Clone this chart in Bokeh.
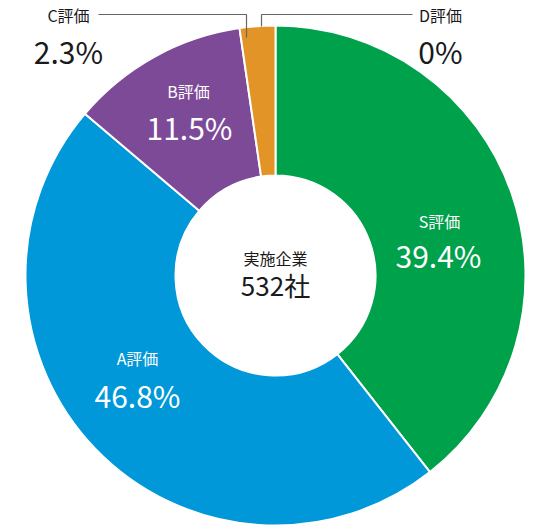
import numpy as np
from bokeh.plotting import figure
from bokeh.models import Range1d, ColumnDataSource
from bokeh.core.properties import value
from bokeh.embed import file_html
from bokeh.resources import INLINE

# ---- data ----
categories = ["S評価", "A評価", "B評価", "C評価", "D評価"]
shares = [39.4, 46.8, 11.5, 2.3, 0.0]
pct_labels = ["39.4%", "46.8%", "11.5%", "2.3%", "0%"]
colors = ["#00A14B", "#0098D9", "#7D4A98", "#E39427", "#999999"]
center_title = "実施企業"
center_value = "532社"

# ---- layout (image pixel coordinates) ----
W, H = 550, 530
FONT = value("Noto Sans CJK JP")
cx_px, cy_px = 275, 275
r_in, r_out = 100, 250

def Y(py):
    return H - py

p = figure(width=W, height=H, output_backend="svg", toolbar_location=None,
           x_range=Range1d(0, W), y_range=Range1d(0, H), min_border=0)
p.axis.visible = False
p.grid.visible = False
p.outline_line_color = None
p.background_fill_color = "white"
p.border_fill_color = "white"

frac = np.array(shares) / sum(shares)
ends = np.pi / 2 - 2 * np.pi * np.cumsum(frac)
starts = np.concatenate([[np.pi / 2], ends[:-1]])
keep = frac > 0
src = ColumnDataSource(dict(
    start=starts[keep], end=ends[keep],
    color=[c for c, k in zip(colors, keep) if k],
))
p.annular_wedge(x=cx_px, y=Y(cy_px), inner_radius=r_in, outer_radius=r_out,
                start_angle="start", end_angle="end", direction="clock",
                fill_color="color", line_color="white", line_width=2, source=src)

# label positions: (name_x, name_y, pct_x, pct_y, color)
label_pos = [
    (439, 220, 438, 254, "white"),
    (137, 357, 137, 394, "white"),
    (188, 90, 189, 126, "white"),
    (68, 14, 68, 50, "#1a1a1a"),
    (440, 14, 440, 50, "#1a1a1a"),
]
for (nx, ny, px_, py_, col), name, pct in zip(label_pos, categories, pct_labels):
    p.text(x=[nx], y=[Y(ny)], text=[name], text_align="center", text_baseline="middle",
           text_font=FONT, text_font_size="16px", text_color=col)
    p.text(x=[px_], y=[Y(py_)], text=[pct], text_align="center", text_baseline="middle",
           text_font=FONT, text_font_size="30px", text_color=col)

# leader lines
p.line(x=[98, 246, 246], y=[Y(14), Y(14), Y(37)], line_color="#666666", line_width=1.2)
p.line(x=[412, 261, 261], y=[Y(14), Y(14), Y(26)], line_color="#666666", line_width=1.2)

# center text
p.text(x=[cx_px], y=[Y(257)], text=[center_title], text_align="center", text_baseline="middle",
       text_font=FONT, text_font_size="16px", text_color="#1a1a1a")
p.text(x=[cx_px], y=[Y(284)], text=[center_value], text_align="center", text_baseline="middle",
       text_font=FONT, text_font_size="26px", text_color="#1a1a1a")

open("out.html", "w").write(file_html(p, INLINE))
